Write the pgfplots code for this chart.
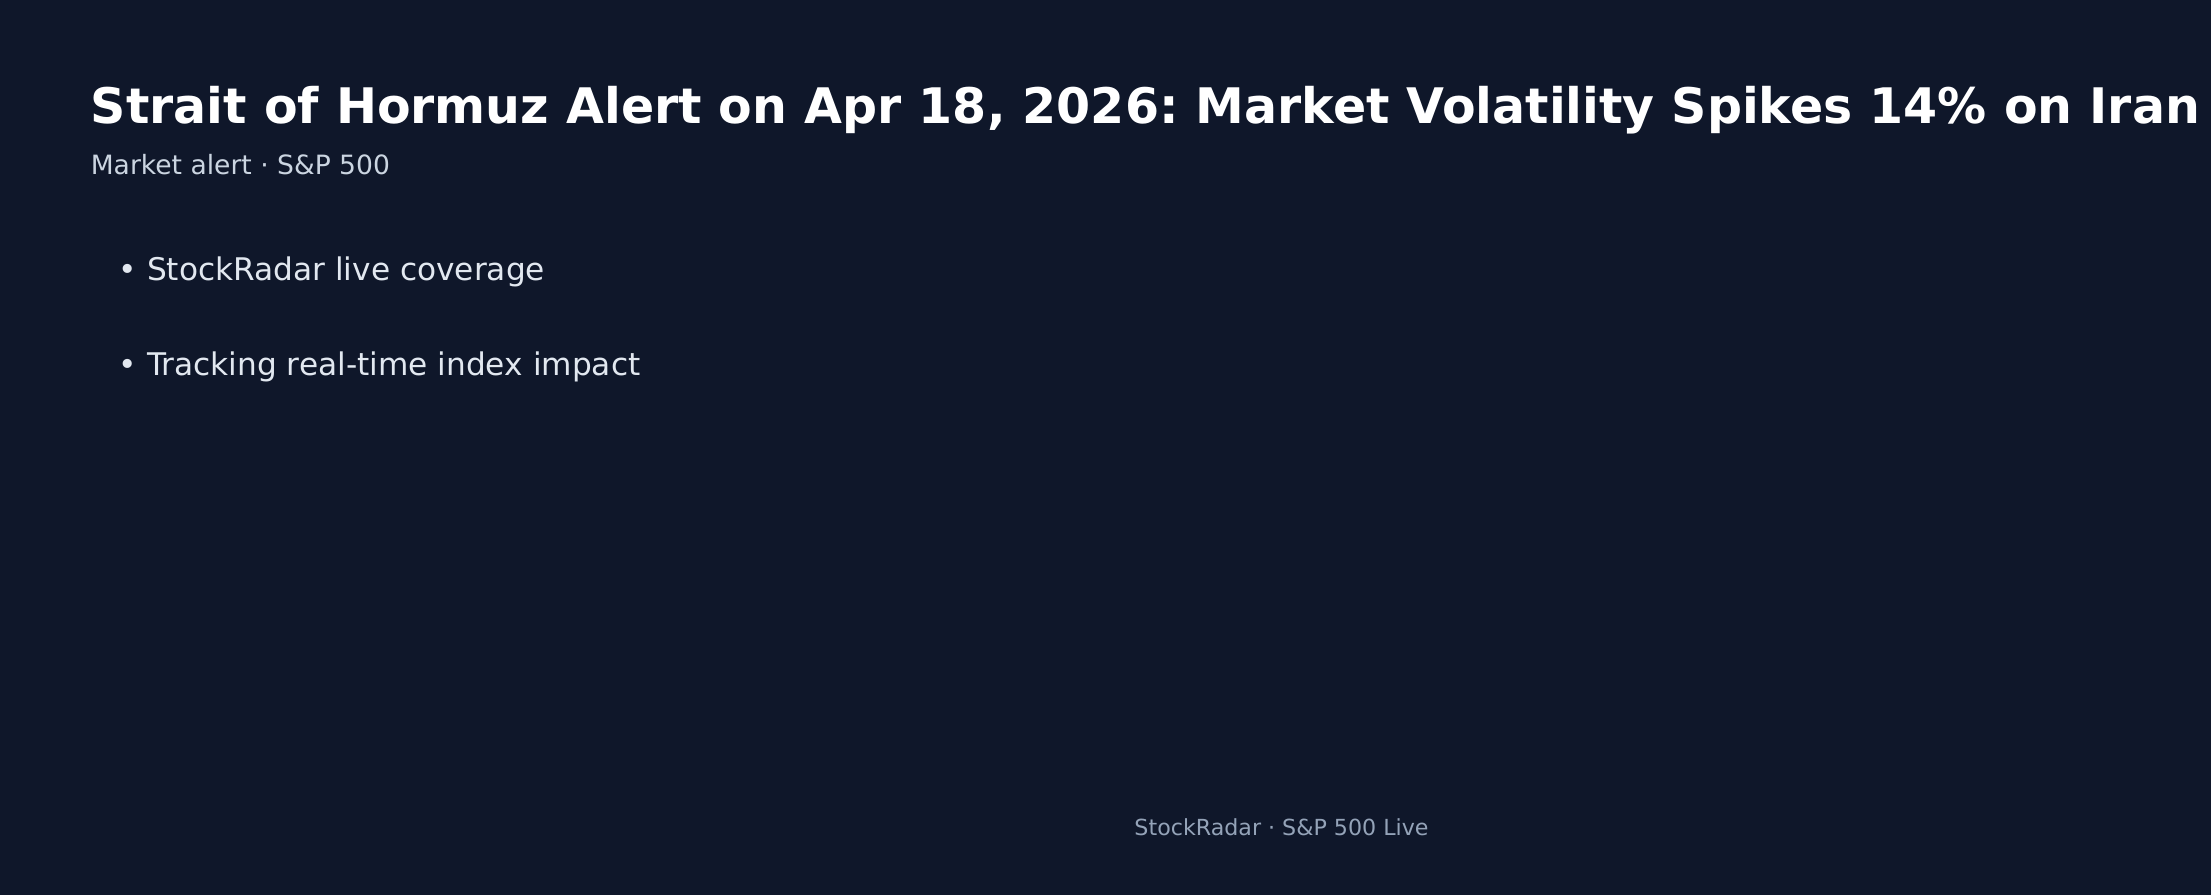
\documentclass[border=0pt]{standalone}
\usepackage{pgfplots}
\pgfplotsset{compat=1.18}
\usepackage{fontspec}
\setmainfont{DejaVu Sans}
\frenchspacing
\definecolor{bg}{HTML}{0F172A}
\definecolor{subt}{HTML}{CBD5E1}
\definecolor{bullet}{HTML}{E2E8F0}
\definecolor{foot}{HTML}{94A3B8}
% 1 px of the reference = 0.25pt
\begin{document}
\begin{tikzpicture}
\begin{axis}[name=ax,
  width=552.75pt, height=223.5pt, scale only axis,
  xmin=0, xmax=2211, ymin=0, ymax=894, y dir=reverse,
  hide axis, clip=false]
% background, a bit larger than the page so no edge is left bare
\fill[bg] (axis cs:-30,-30) rectangle (axis cs:2241,924);
\node[anchor=base west, inner sep=0, text=white, font=\fontsize{12.25}{14}\selectfont\bfseries]
  at (axis cs:90,123.3) {Strait of Hormuz Alert on Apr 18, 2026: Market Volatility Spikes 14\% on Iran};
\node[anchor=base west, inner sep=0, text=subt, font=\fontsize{6.64}{8}\selectfont]
  at (axis cs:90,174) {Market alert · S\&P 500};
\node[anchor=base west, inner sep=0, text=bullet, font=\fontsize{7.8}{9}\selectfont]
  at (axis cs:118,280.7) {• StockRadar live coverage};
\node[anchor=base west, inner sep=0, text=bullet, font=\fontsize{7.8}{9}\selectfont]
  at (axis cs:118,375) {• Tracking real-time index impact};
\node[anchor=base, inner sep=0, text=foot, font=\fontsize{5.54}{7}\selectfont]
  at (axis cs:1281.5,835.7) {StockRadar · S\&P 500 Live};
\end{axis}
\pgfresetboundingbox
\path (ax.south west) rectangle (ax.north east);
\end{tikzpicture}
\end{document}
